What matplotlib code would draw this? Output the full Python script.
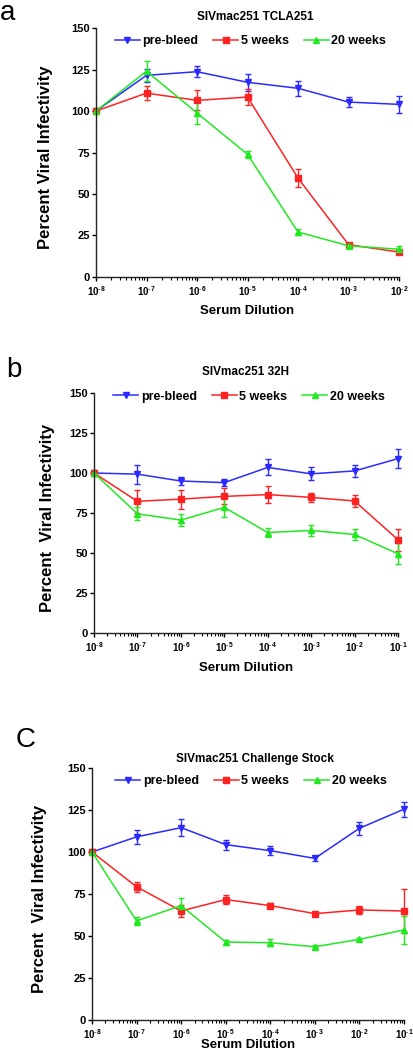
import numpy as np
import matplotlib
matplotlib.use('Agg')
import matplotlib.pyplot as plt
from matplotlib.lines import Line2D
from matplotlib.ticker import FixedLocator, FixedFormatter, LogLocator, NullFormatter

plt.rcParams['font.family'] = ['Liberation Sans', 'DejaVu Sans']
plt.rcParams['mathtext.fontset'] = 'custom'
plt.rcParams['mathtext.rm'] = 'Liberation Sans'
plt.rcParams['mathtext.bf'] = 'Liberation Sans:bold'

# panel a: SIVmac251 TCLA251
dil_a = [1e-8, 1e-7, 1e-6, 1e-5, 1e-4, 1e-3, 1e-2]
pre_a = [100, 121.5, 123.7, 117.3, 113.7, 105.4, 104]
pre_a_err = [0, 4, 3.5, 5, 4.5, 3, 5]
w5_a = [100, 110.8, 106.4, 108.4, 59.6, 19.5, 15]
w5_a_err = [0, 4, 6, 5, 5.5, 1, 1]
w20_a = [100, 124, 98.8, 73.9, 27.1, 18.8, 16.7]
w20_a_err = [0, 6, 6.5, 2, 2, 1.5, 2]

# panel b: SIVmac251 32H
dil_b = [1e-8, 1e-7, 1e-6, 1e-5, 1e-4, 1e-3, 1e-2, 1e-1]
pre_b = [100, 99.3, 95, 94, 103.5, 99.5, 101.3, 109]
pre_b_err = [0, 6, 2.5, 2, 5, 4, 3.5, 6]
w5_b = [100, 82.3, 83.7, 85.4, 86.5, 84.8, 82.5, 58.3]
w5_b_err = [0, 7, 6, 5, 5.5, 3, 3.5, 7]
w20_b = [100, 74.5, 70.6, 78.5, 62.8, 64.1, 61.6, 49.5]
w20_b_err = [0, 4, 4, 6, 3, 3.5, 3.5, 6.5]

# panel c: SIVmac251 Challenge Stock
dil_c = [1e-8, 1e-7, 1e-6, 1e-5, 1e-4, 1e-3, 1e-2, 1e-1]
pre_c = [100, 109, 114.5, 104.4, 100.8, 96.2, 114.1, 125.5]
pre_c_err = [0, 4, 5, 3, 2.5, 1.5, 4, 4.5]
w5_c = [100, 79.3, 64.9, 71.7, 68.1, 63.3, 65.5, 64.9]
w5_c_err = [0, 3, 3.5, 2.5, 1.5, 1, 2.5, 13]
w20_c = [100, 59, 68.1, 46.4, 46, 43.6, 48, 53.6]
w20_c_err = [0, 2.5, 4.5, 1.5, 2, 1, 1, 8.5]

series_names = ['pre-bleed', '5 weeks', '20 weeks']
colors = ['#2b2bff', '#ff2222', '#22e822']
markers = ['v', 's', '^']
yticks = [0, 25, 50, 75, 100, 125, 150]

fig = plt.figure(figsize=(4.14, 10.5), dpi=100)


def panel(rect, dil, ys, errs, title, title_xy, ylabel, ylab_x, xlab_y, leg_y, letter, letter_xy):
    ax = fig.add_axes(rect)
    for y, e, c, m in zip(ys, errs, colors, markers):
        ax.errorbar(dil, y, yerr=e, color=c, marker=m, markersize=4.5, lw=1.1,
                    elinewidth=1.0, capsize=2.5, capthick=1.0, clip_on=False)
    ax.set_xscale('log')
    ax.set_xlim(dil[0], dil[-1])
    ax.set_ylim(0, 150)
    for s in ['top', 'right']:
        ax.spines[s].set_visible(False)
    for s in ['left', 'bottom']:
        ax.spines[s].set_linewidth(1.0)
        ax.spines[s].set_color('#222222')
    ax.yaxis.set_major_locator(FixedLocator(yticks))
    ax.set_yticklabels([str(v) for v in yticks], fontsize=8, fontweight='bold')
    ax.xaxis.set_major_locator(FixedLocator(dil))
    exps = [int(round(-np.log10(d))) for d in dil]
    ax.xaxis.set_major_formatter(FixedFormatter([r'$\mathbf{10^{\text{-}%d}}$' % k for k in exps]))
    ax.xaxis.set_minor_locator(LogLocator(base=10, subs=np.arange(2, 10), numticks=20))
    ax.xaxis.set_minor_formatter(NullFormatter())
    ax.tick_params(axis='y', which='major', direction='out', length=3, width=1, labelsize=8, pad=1.5)
    ax.tick_params(axis='x', which='major', direction='out', length=3, width=1, labelsize=7, pad=2)
    ax.tick_params(axis='x', which='minor', direction='out', length=2, width=0.8)
    ax.set_xlabel('Serum Dilution', fontsize=9.5, fontweight='bold')
    ax.xaxis.set_label_coords(0.5, xlab_y)
    ax.set_ylabel(ylabel, fontsize=12, fontweight='bold')
    ax.yaxis.set_label_coords(ylab_x, 0.48)
    handles = [Line2D([], [], color=c, marker=m, markersize=4.5, lw=1.1) for c, m in zip(colors, markers)]
    ax.legend(handles, series_names, loc='center', bbox_to_anchor=(0.51, leg_y), ncol=3, frameon=False,
              handlelength=2.0, columnspacing=1.2, handletextpad=0.2,
              prop={'size': 9, 'weight': 'bold'})
    fig.text(title_xy[0], title_xy[1], title, ha='center', va='center', fontsize=8.5, fontweight='bold')
    fig.text(letter_xy[0], letter_xy[1], letter, ha='left', va='baseline', fontsize=20)
    return ax


panel([0.2319, 0.7362, 0.7319, 0.2371], dil_a, [pre_a, w5_a, w20_a], [pre_a_err, w5_a_err, w20_a_err],
      'SIVmac251 TCLA251', (0.616, 0.9838), 'Percent Viral Infectivity', -0.142, -0.112, 0.948,
      'a', (0.0, 0.981))
panel([0.2271, 0.3971, 0.7343, 0.2286], dil_b, [pre_b, w5_b, w20_b], [pre_b_err, w5_b_err, w20_b_err],
      'SIVmac251 32H', (0.592, 0.6457), 'Percent  Viral Infectivity', -0.128, -0.12, 0.985,
      'b', (0.015, 0.641))
panel([0.2222, 0.02857, 0.7536, 0.24], dil_c, [pre_c, w5_c, w20_c], [pre_c_err, w5_c_err, w20_c_err],
      'SIVmac251 Challenge Stock', (0.616, 0.2771), 'Percent  Viral Infectivity', -0.144, -0.075, 0.948,
      'C', (0.038, 0.2886))

fig.savefig('out.png', dpi=100)
